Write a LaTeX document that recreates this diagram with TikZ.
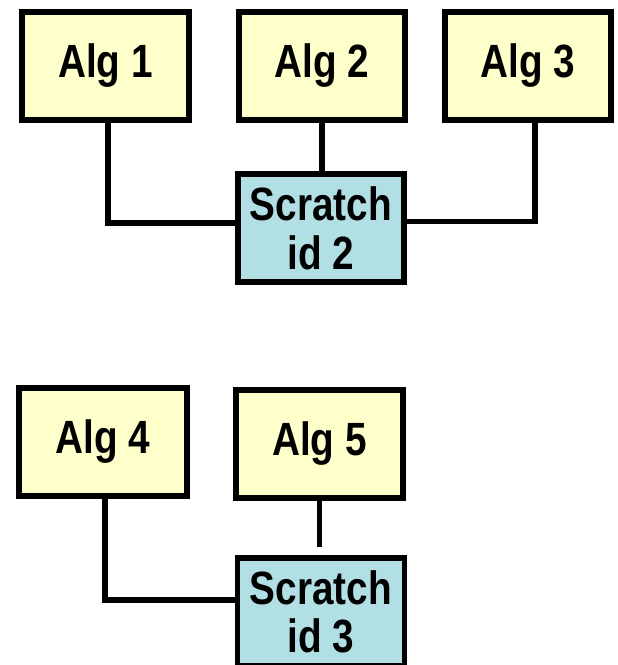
\documentclass[tikz,border=0pt]{standalone}
\usepackage{fontspec}
\newfontfamily\boxfont[FakeStretch=0.83]{Liberation Sans}
\definecolor{algfill}{RGB}{255,255,204}
\definecolor{scrfill}{RGB}{178,223,228}
\begin{document}
\begin{tikzpicture}[x=0.75pt,y=-0.75pt,
  box/.style={draw=black,line width=4.1pt,minimum height=108*0.75pt,inner sep=0pt,
    font=\boxfont\fontsize{35}{36.5}\selectfont\bfseries,align=center},
  algbox/.style={box,fill=algfill},
  scrbox/.style={box,fill=scrfill},
  wire/.style={draw=black,line width=3.8pt}]
\useasboundingbox (0,0) rectangle (618,665);
\node[algbox,minimum width=167*0.75pt] (alg1) at (105.5,66) {Alg 1};
\node[algbox,minimum width=166*0.75pt] (alg2) at (322,66) {Alg 2};
\node[algbox,minimum width=166*0.75pt] (alg3) at (528,66) {Alg 3};
\node[scrbox,minimum width=166*0.75pt] (s2) at (321,228) {Scratch\\id 2};
\node[algbox,minimum width=168*0.75pt] (alg4) at (103,442) {Alg 4};
\node[algbox,minimum width=167*0.75pt] (alg5) at (319.5,444) {Alg 5};
\node[scrbox,minimum width=167*0.75pt] (s3) at (321,612) {Scratch\\id 3};
\draw[wire] ([xshift=2.5*0.75pt]alg1.south) |- ([yshift=5*0.75pt]s2.west);
\draw[wire] (alg2.south) -- (alg2.south |- s2.north);
\draw[wire] ([xshift=7*0.75pt]alg3.south) |- ([yshift=6.5*0.75pt]s2.east);
\draw[wire] ([xshift=2*0.75pt]alg4.south) |- ([yshift=12*0.75pt]s3.west);
\coordinate (e5) at ([yshift=8*0.75pt]s3.north);
\draw[wire] (alg5.south) -- (alg5.south |- e5);
\end{tikzpicture}
\end{document}
